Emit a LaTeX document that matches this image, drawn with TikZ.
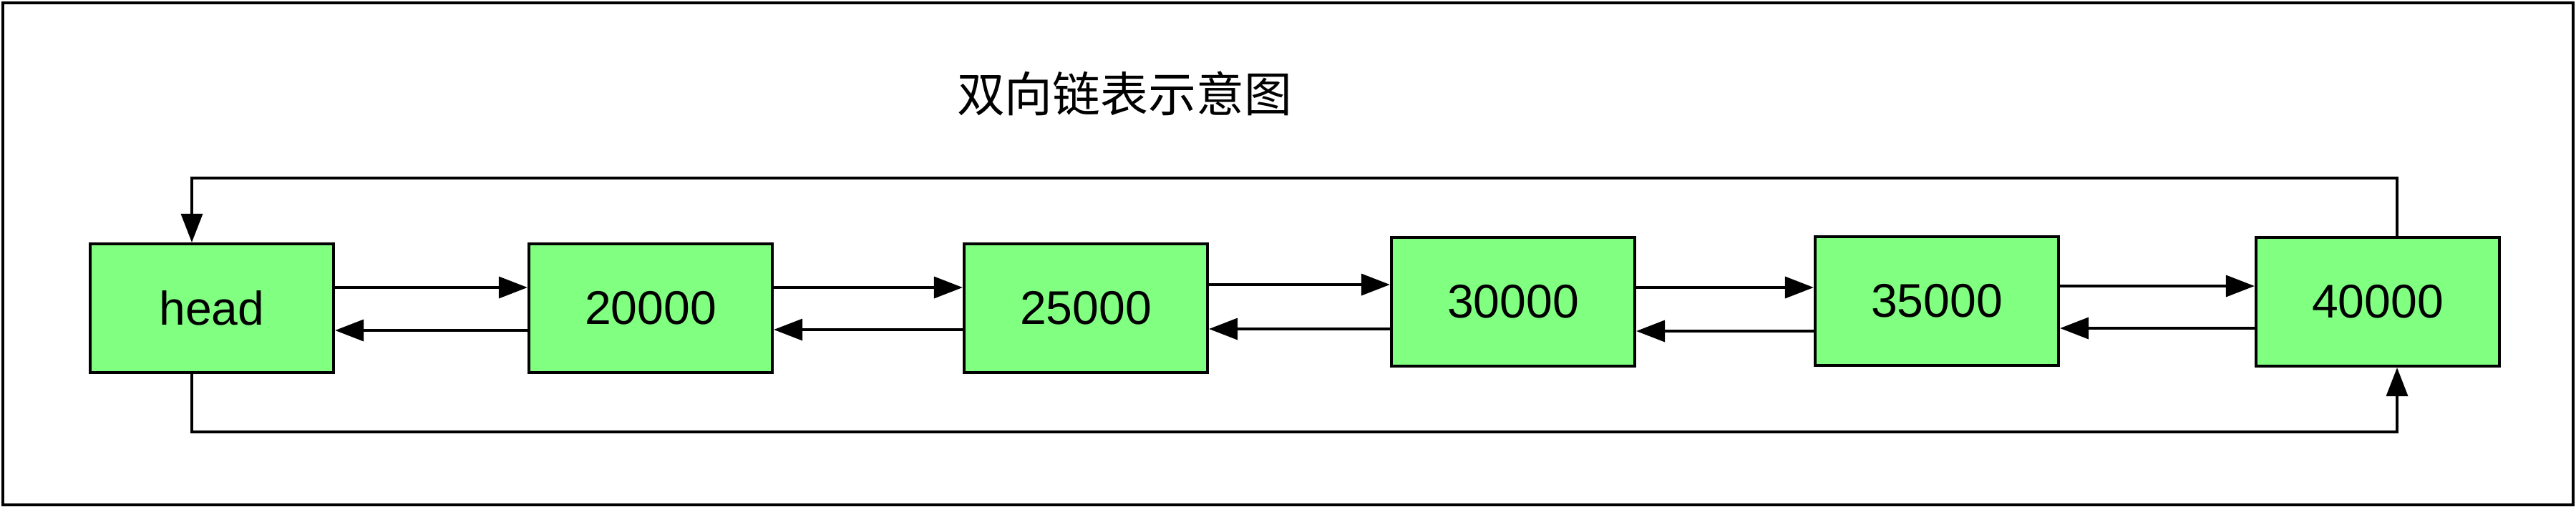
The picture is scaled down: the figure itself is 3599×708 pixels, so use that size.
\documentclass[tikz,border=0pt]{standalone}
\usepackage{fontspec}
\setmainfont{Liberation Sans}
\newfontfamily\cjk{Noto Sans CJK SC}
\usetikzlibrary{arrows.meta}
\definecolor{boxgreen}{HTML}{80FF80}

\begin{document}
\begin{tikzpicture}[
    x=0.01cm, y=-0.01cm,
    box/.style={rectangle, draw, fill=boxgreen, line width=0.04cm, inner sep=0pt,
        minimum width=3.4cm, minimum height=1.8cm, font=\fontsize{18.8}{22}\selectfont},
    link/.style={line width=0.035cm, -{Triangle[length=0.4cm, width=0.3cm]}}
]
\useasboundingbox (0,0) rectangle (3599,708);
\draw[line width=0.035cm] (4,4) rectangle (3595,706);

\node[font=\cjk\fontsize{19}{22}\selectfont] (title) at (1571,131) {双向链表示意图};

\node[box] (head) at (296,431) {head};
\node[box] (n20) at (909,431) {20000};
\node[box] (n25) at (1517,431) {25000};
\node[box] (n30) at (2114,422) {30000};
\node[box] (n35) at (2706,421) {35000};
\node[box] (n40) at (3322,422) {40000};

\draw[link] (head.east |- 0,402) -- (n20.west |- 0,402);
\draw[link] (n20.west |- 0,462) -- (head.east |- 0,462);
\draw[link] (n20.east |- 0,402) -- (n25.west |- 0,402);
\draw[link] (n25.west |- 0,461) -- (n20.east |- 0,461);
\draw[link] (n25.east |- 0,398) -- (n30.west |- 0,398);
\draw[link] (n30.west |- 0,460) -- (n25.east |- 0,460);
\draw[link] (n30.east |- 0,402) -- (n35.west |- 0,402);
\draw[link] (n35.west |- 0,463) -- (n30.east |- 0,463);
\draw[link] (n35.east |- 0,400) -- (n40.west |- 0,400);
\draw[link] (n40.west |- 0,459) -- (n35.east |- 0,459);

% wrap-around links
\coordinate (tl) at (268,249);
\coordinate (tr) at (3349,249);
\coordinate (bl) at (268,604);
\coordinate (br) at (3349,604);
\draw[link] (n40.north -| tr) -- (tr) -- (tl) -- (head.north -| tl);
\draw[link] (head.south -| bl) -- (bl) -- (br) -- (n40.south -| br);

\end{tikzpicture}
\end{document}
